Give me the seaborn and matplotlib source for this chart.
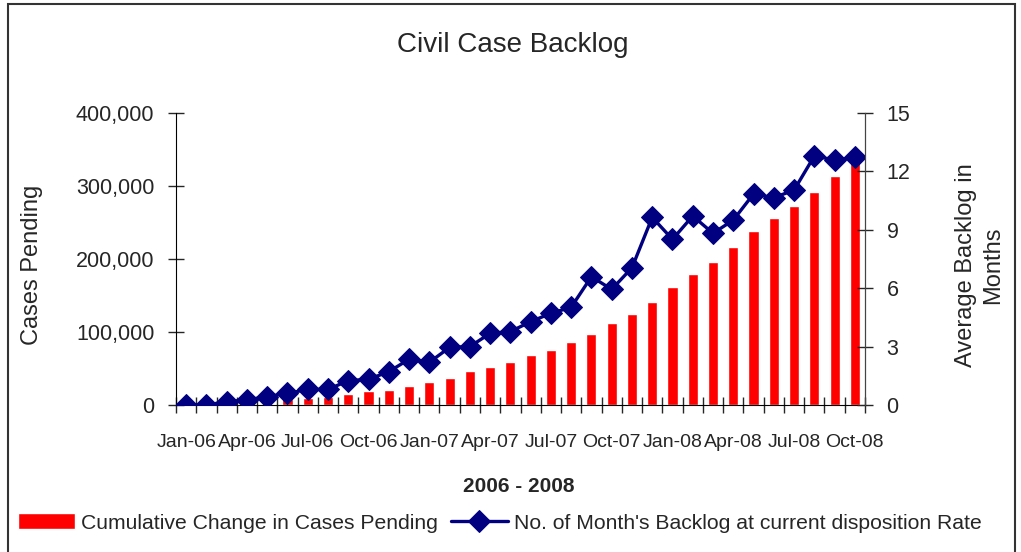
import numpy as np
import pandas as pd
import matplotlib
matplotlib.use('Agg')
import matplotlib.pyplot as plt
from matplotlib.patches import Rectangle
from matplotlib.ticker import FuncFormatter, FixedLocator
import seaborn as sns

months = ['Jan-06', 'Feb-06', 'Mar-06', 'Apr-06', 'May-06', 'Jun-06', 'Jul-06', 'Aug-06', 'Sep-06', 'Oct-06', 'Nov-06', 'Dec-06',
          'Jan-07', 'Feb-07', 'Mar-07', 'Apr-07', 'May-07', 'Jun-07', 'Jul-07', 'Aug-07', 'Sep-07', 'Oct-07', 'Nov-07', 'Dec-07',
          'Jan-08', 'Feb-08', 'Mar-08', 'Apr-08', 'May-08', 'Jun-08', 'Jul-08', 'Aug-08', 'Sep-08', 'Oct-08']
cases_pending = [0, 500, 1500, 3000, 4500, 8000, 10000, 10500, 15000, 19000, 20500, 26500,
                 31500, 37500, 46500, 52500, 59000, 68500, 76000, 86000, 97500, 112000, 124500, 141000,
                 161000, 179500, 196000, 216000, 238000, 256000, 272500, 292000, 314000, 338000]
backlog_months = [0.0, 0.0, 0.17, 0.26, 0.43, 0.6, 0.8, 0.8, 1.25, 1.32, 1.71, 2.35,
                  2.19, 2.96, 3.0, 3.68, 3.77, 4.28, 4.71, 5.02, 6.59, 5.94, 7.05, 9.64,
                  8.51, 9.71, 8.82, 9.5, 10.84, 10.65, 11.04, 12.79, 12.59, 12.72]

df = pd.DataFrame({'month': months, 'pending': cases_pending, 'backlog': backlog_months})
df['pos'] = np.arange(len(df))

sns.set_style('white')
plt.rcParams['font.family'] = ['Liberation Sans', 'DejaVu Sans']
plt.rcParams['font.size'] = 15

fig = plt.figure(figsize=(10.21, 5.52), dpi=100)
ax = fig.add_axes([176/1021, 1-405/552, (865-176)/1021, (405-113)/552])

sns.barplot(data=df, x='month', y='pending', color='#FF0000', saturation=1, width=0.5, ax=ax,
            label='Cumulative Change in Cases Pending')
ax2 = ax.twinx()
sns.lineplot(data=df, x='pos', y='backlog', color='#000080', linewidth=2.4, marker='D', markersize=11,
             markeredgecolor='#000080', ax=ax2, label="No. of Month's Backlog at current disposition Rate")

n = len(months)
ax.set_xlim(-0.5, n - 0.5)
ax.set_ylim(0, 400000)
ax2.set_ylim(0, 15)
ax.set_yticks([0, 100000, 200000, 300000, 400000])
ax.yaxis.set_major_formatter(FuncFormatter(lambda v, p: f'{int(v):,}'))
ax2.set_yticks([0, 3, 6, 9, 12, 15])

ax.set_xticks(range(0, n, 3))
ax.set_xticklabels(months[::3])
ax.xaxis.set_minor_locator(FixedLocator(np.arange(-0.5, n, 1)))
ax.tick_params(axis='x', which='major', length=0, pad=21, labelsize=14)
ax.tick_params(axis='x', which='minor', length=11, width=1, direction='inout', bottom=True)
ax.tick_params(axis='y', length=11, width=1, direction='inout', pad=10, labelsize=15.5, left=True)
ax2.tick_params(axis='y', length=11, width=1, direction='inout', pad=10, labelsize=15.5, right=True)

for a in (ax, ax2):
    a.set_xlabel('')
    a.set_ylabel('')
    a.spines['top'].set_visible(False)
    a.grid(False)
ax.spines['left'].set_color('black')
ax.spines['bottom'].set_color('black')
ax2.spines['right'].set_color('#444444')
ax2.spines['left'].set_visible(False)
ax2.spines['bottom'].set_visible(False)
ax.set_zorder(ax2.get_zorder() - 1)
ax2.patch.set_visible(False)

fig.text(513/1021, 1-45/552, 'Civil Case Backlog', ha='center', va='center', fontsize=20)
fig.text(32/1021, 1-265/552, 'Cases Pending', ha='center', va='center', rotation=90, fontsize=17)
fig.text(980/1021, 1-265/552, 'Average Backlog in\nMonths', ha='center', va='center', rotation=90,
         fontsize=17, linespacing=1.3)
fig.text(519/1021, 1-486/552, '2006 - 2008', ha='center', va='center', fontsize=15, fontweight='bold')

h1, l1 = ax.get_legend_handles_labels()
h2, l2 = ax2.get_legend_handles_labels()
if ax2.get_legend():
    ax2.get_legend().remove()
if ax.get_legend():
    ax.get_legend().remove()
fig.legend(h1 + h2, l1 + l2, loc='center left', bbox_to_anchor=(18/1021, 1-523/552), ncol=2, frameon=False,
           fontsize=15.2, handlelength=2.7, handleheight=0.75, handletextpad=0.3, columnspacing=0.6, borderpad=0,
           borderaxespad=0)

fig.patches.append(Rectangle((8/1021, -0.05), (1015-8)/1021, 1.05-4/552, transform=fig.transFigure,
                             fill=False, edgecolor='#333333', linewidth=1.5))

fig.savefig('out.png', dpi=100)
